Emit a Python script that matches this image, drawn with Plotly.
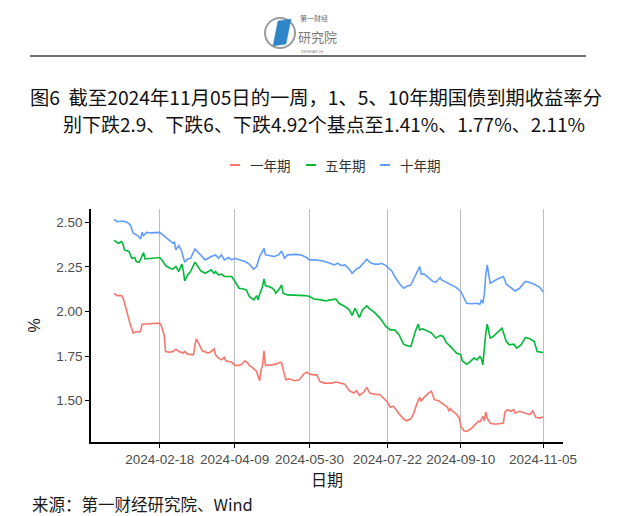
import plotly.graph_objects as go

# ---------------- data ----------------
dates_1y = ["2024-01-18","2024-01-20","2024-01-23","2024-01-24","2024-01-26","2024-01-28","2024-01-29","2024-01-31",
            "2024-02-02","2024-02-04","2024-02-05","2024-02-06","2024-02-10","2024-02-14","2024-02-18","2024-02-19",
            "2024-02-21","2024-02-22","2024-02-25","2024-02-27","2024-02-29","2024-03-02","2024-03-05","2024-03-06",
            "2024-03-08","2024-03-12","2024-03-13","2024-03-14","2024-03-16","2024-03-18","2024-03-22","2024-03-24",
            "2024-03-26","2024-03-27","2024-03-29","2024-03-31","2024-04-02","2024-04-03","2024-04-07","2024-04-09",
            "2024-04-12","2024-04-14","2024-04-16","2024-04-18","2024-04-19","2024-04-21","2024-04-24","2024-04-25",
            "2024-04-26","2024-04-27","2024-04-28","2024-04-29","2024-04-30","2024-05-04","2024-05-07","2024-05-10",
            "2024-05-11","2024-05-13","2024-05-14","2024-05-16","2024-05-20","2024-05-23","2024-05-26","2024-05-28",
            "2024-05-30","2024-06-02","2024-06-04","2024-06-06","2024-06-09","2024-06-12","2024-06-14","2024-06-17",
            "2024-06-20","2024-06-23","2024-06-26","2024-06-29","2024-07-01","2024-07-03","2024-07-06","2024-07-08",
            "2024-07-10","2024-07-13","2024-07-17","2024-07-19","2024-07-22","2024-07-24","2024-07-26","2024-07-28",
            "2024-07-30","2024-08-02","2024-08-04","2024-08-07","2024-08-09","2024-08-11","2024-08-13","2024-08-14",
            "2024-08-16","2024-08-19","2024-08-21","2024-08-23","2024-08-26","2024-08-28","2024-09-01","2024-09-02",
            "2024-09-03","2024-09-05","2024-09-07","2024-09-09","2024-09-10","2024-09-12","2024-09-14","2024-09-17",
            "2024-09-20","2024-09-22","2024-09-23","2024-09-25","2024-09-26","2024-09-27","2024-09-28","2024-09-30",
            "2024-10-02","2024-10-05","2024-10-09","2024-10-10","2024-10-12","2024-10-14","2024-10-16","2024-10-17",
            "2024-10-20","2024-10-24","2024-10-27","2024-10-29","2024-10-31","2024-11-03","2024-11-05"]
yield_1y = [2.102,2.089,2.089,2.078,2.018,1.953,1.925,1.879,
            1.888,1.884,1.891,1.929,1.933,1.933,1.935,1.922,
            1.869,1.776,1.772,1.776,1.789,1.776,1.767,1.776,
            1.761,1.757,1.813,1.847,1.813,1.780,1.767,1.776,
            1.791,1.757,1.739,1.729,1.743,1.724,1.716,1.698,
            1.698,1.705,1.724,1.711,1.698,1.687,1.664,1.642,
            1.612,1.673,1.698,1.780,1.698,1.701,1.705,1.716,
            1.711,1.642,1.617,1.623,1.612,1.617,1.649,1.660,
            1.649,1.645,1.645,1.608,1.599,1.599,1.599,1.605,
            1.599,1.593,1.556,1.543,1.556,1.530,1.549,1.575,
            1.543,1.537,1.534,1.519,1.493,1.463,1.469,1.450,
            1.426,1.399,1.388,1.399,1.431,1.482,1.519,1.497,
            1.519,1.543,1.553,1.506,1.500,1.487,1.463,1.441,
            1.455,1.437,1.426,1.403,1.357,1.332,1.329,1.343,
            1.370,1.385,1.381,1.413,1.388,1.437,1.403,1.375,
            1.370,1.370,1.375,1.437,1.450,1.441,1.450,1.431,
            1.441,1.431,1.422,1.444,1.407,1.403,1.410]

dates_5y = ["2024-01-18","2024-01-19","2024-01-21","2024-01-23","2024-01-24","2024-01-25","2024-01-28","2024-01-30",
            "2024-02-01","2024-02-02","2024-02-04","2024-02-06","2024-02-07","2024-02-08","2024-02-12","2024-02-18",
            "2024-02-20","2024-02-22","2024-02-25","2024-02-27","2024-02-29","2024-03-02","2024-03-04","2024-03-05",
            "2024-03-06","2024-03-08","2024-03-10","2024-03-13","2024-03-15","2024-03-17","2024-03-20","2024-03-22",
            "2024-03-24","2024-03-26","2024-03-27","2024-03-29","2024-03-31","2024-04-02","2024-04-04","2024-04-07",
            "2024-04-10","2024-04-12","2024-04-15","2024-04-17","2024-04-19","2024-04-22","2024-04-24","2024-04-25",
            "2024-04-26","2024-04-28","2024-04-29","2024-04-30","2024-05-04","2024-05-06","2024-05-07","2024-05-09",
            "2024-05-11","2024-05-12","2024-05-15","2024-05-19","2024-05-22","2024-05-27","2024-05-30","2024-06-02",
            "2024-06-07","2024-06-10","2024-06-13","2024-06-17","2024-06-19","2024-06-21","2024-06-23","2024-06-26",
            "2024-06-28","2024-06-30","2024-07-03","2024-07-05","2024-07-08","2024-07-10","2024-07-13","2024-07-17",
            "2024-07-19","2024-07-21","2024-07-24","2024-07-27","2024-07-30","2024-08-02","2024-08-04","2024-08-07",
            "2024-08-10","2024-08-12","2024-08-13","2024-08-15","2024-08-19","2024-08-21","2024-08-24","2024-08-27",
            "2024-08-29","2024-08-31","2024-09-04","2024-09-07","2024-09-10","2024-09-11","2024-09-14","2024-09-16",
            "2024-09-19","2024-09-21","2024-09-23","2024-09-24","2024-09-25","2024-09-26","2024-09-27","2024-09-28",
            "2024-09-30","2024-10-02","2024-10-05","2024-10-08","2024-10-11","2024-10-13","2024-10-16","2024-10-18",
            "2024-10-21","2024-10-24","2024-10-27","2024-10-30","2024-11-01","2024-11-03","2024-11-05"]
yield_5y = [2.400,2.391,2.382,2.391,2.376,2.345,2.336,2.298,
            2.302,2.280,2.276,2.308,2.330,2.294,2.298,2.302,
            2.283,2.257,2.242,2.237,2.252,2.224,2.265,2.233,
            2.171,2.205,2.224,2.276,2.252,2.227,2.214,2.224,
            2.233,2.214,2.224,2.205,2.209,2.196,2.196,2.196,
            2.158,2.130,2.126,2.121,2.084,2.065,2.089,2.065,
            2.097,2.140,2.182,2.145,2.134,2.121,2.102,2.121,
            2.149,2.102,2.093,2.093,2.089,2.089,2.084,2.070,
            2.065,2.059,2.065,2.069,2.046,2.037,2.028,2.009,
            1.978,2.018,1.966,2.009,2.031,2.015,1.996,1.963,
            1.940,1.916,1.897,1.897,1.869,1.817,1.810,1.804,
            1.888,1.929,1.897,1.903,1.888,1.879,1.851,1.866,
            1.860,1.828,1.795,1.767,1.757,1.724,1.705,1.716,
            1.739,1.729,1.748,1.735,1.701,1.795,1.879,1.929,
            1.851,1.860,1.884,1.907,1.832,1.813,1.817,1.795,
            1.813,1.855,1.847,1.832,1.776,1.772,1.770]

dates_10y = ["2024-01-18","2024-01-20","2024-01-24","2024-01-27","2024-01-29","2024-01-31","2024-02-03","2024-02-05",
             "2024-02-06","2024-02-07","2024-02-09","2024-02-12","2024-02-18","2024-02-20","2024-02-23","2024-02-27",
             "2024-02-28","2024-02-29","2024-03-02","2024-03-04","2024-03-06","2024-03-08","2024-03-10","2024-03-13",
             "2024-03-15","2024-03-18","2024-03-20","2024-03-22","2024-03-24","2024-03-27","2024-03-29","2024-03-31",
             "2024-04-02","2024-04-05","2024-04-07","2024-04-09","2024-04-12","2024-04-16","2024-04-19","2024-04-22",
             "2024-04-24","2024-04-26","2024-04-28","2024-04-29","2024-04-30","2024-05-03","2024-05-06","2024-05-09",
             "2024-05-11","2024-05-13","2024-05-15","2024-05-20","2024-05-24","2024-05-28","2024-05-30","2024-06-03",
             "2024-06-08","2024-06-13","2024-06-16","2024-06-18","2024-06-21","2024-06-23","2024-06-26","2024-06-28",
             "2024-07-01","2024-07-03","2024-07-06","2024-07-08","2024-07-10","2024-07-13","2024-07-16","2024-07-18",
             "2024-07-21","2024-07-25","2024-07-27","2024-07-30","2024-08-02","2024-08-04","2024-08-07","2024-08-10",
             "2024-08-11","2024-08-13","2024-08-14","2024-08-16","2024-08-19","2024-08-22","2024-08-24","2024-08-27",
             "2024-08-28","2024-08-31","2024-09-04","2024-09-07","2024-09-10","2024-09-11","2024-09-14","2024-09-17",
             "2024-09-21","2024-09-23","2024-09-24","2024-09-25","2024-09-26","2024-09-27","2024-09-28","2024-09-30",
             "2024-10-02","2024-10-05","2024-10-09","2024-10-11","2024-10-13","2024-10-17","2024-10-20","2024-10-24",
             "2024-10-27","2024-10-30","2024-11-03","2024-11-05"]
yield_10y = [2.516,2.503,2.507,2.499,2.484,2.438,2.425,2.406,
             2.443,2.425,2.443,2.440,2.443,2.428,2.410,2.382,
             2.388,2.345,2.369,2.336,2.276,2.294,2.298,2.350,
             2.332,2.302,2.289,2.298,2.308,2.317,2.298,2.317,
             2.289,2.302,2.289,2.298,2.289,2.280,2.265,2.237,
             2.252,2.308,2.336,2.354,2.317,2.313,2.308,2.317,
             2.339,2.298,2.317,2.320,2.317,2.302,2.289,2.289,
             2.283,2.270,2.261,2.270,2.257,2.261,2.238,2.214,
             2.238,2.246,2.276,2.293,2.276,2.265,2.265,2.270,
             2.257,2.227,2.196,2.158,2.130,2.140,2.149,2.201,
             2.227,2.252,2.209,2.209,2.190,2.168,2.164,2.190,
             2.177,2.164,2.149,2.134,2.112,2.097,2.046,2.043,
             2.046,2.041,2.065,2.046,2.093,2.205,2.261,2.158,
             2.168,2.182,2.196,2.153,2.140,2.115,2.130,2.168,
             2.162,2.153,2.134,2.110]

series_names = ["一年期", "五年期", "十年期"]
series_colors = ["#F8766D", "#00BA38", "#619CFF"]

tick_dates = ["2024-02-18", "2024-04-09", "2024-05-30", "2024-07-22", "2024-09-10", "2024-11-05"]
y_ticks = [1.50, 1.75, 2.00, 2.25, 2.50]

title_line1 = "图6  截至2024年11月05日的一周，1、5、10年期国债到期收益率分"
title_line2 = "别下跌2.9、下跌6、下跌4.92个基点至1.41%、1.77%、2.11%"
source_text = "来源：第一财经研究院、Wind"

# ---------------- layout helpers ----------------
W, H = 640, 516
L, R, T, B = 83, 85, 201, 82
PW, PH = W - L - R, H - T - B

def px(x):
    return (x - L) / PW

def py(y):
    return (H - B - y) / PH

CJK = "Noto Sans CJK SC, Liberation Sans, sans-serif"
SANS = "Liberation Sans, Arial, sans-serif"

fig = go.Figure()
for name, color, xs, ys in zip(series_names, series_colors,
                               [dates_1y, dates_5y, dates_10y],
                               [yield_1y, yield_5y, yield_10y]):
    fig.add_trace(go.Scatter(x=xs, y=ys, mode="lines", name=name,
                             line=dict(color=color, width=1.6),
                             showlegend=False))

shapes = []
annotations = []

# title
annotations.append(dict(text=title_line1, x=px(307.5), y=py(89), xref="paper", yref="paper",
                        showarrow=False, xanchor="center", yanchor="middle",
                        font=dict(family=CJK, size=19.3, color="#111111")))
annotations.append(dict(text=title_line2, x=px(316), y=py(116), xref="paper", yref="paper",
                        showarrow=False, xanchor="center", yanchor="middle",
                        font=dict(family=CJK, size=19, color="#111111")))

# custom legend
legend_items = [(227, 240), (303, 315), (377, 390)]
for (cx, tx), name, color in zip(legend_items, series_names, series_colors):
    shapes.append(dict(type="line", xref="paper", yref="paper",
                       x0=px(cx - 5), x1=px(cx + 5), y0=py(157), y1=py(157),
                       line=dict(color=color, width=2)))
    annotations.append(dict(text=name, x=px(tx), y=py(157), xref="paper", yref="paper",
                            showarrow=False, xanchor="left", yanchor="middle",
                            font=dict(family=CJK, size=13.5, color="#333333")))

# header rule
shapes.append(dict(type="line", xref="paper", yref="paper",
                   x0=px(22), x1=px(578), y0=py(48), y1=py(48),
                   line=dict(color="#707070", width=2)))

# logo: circle + blue parallelogram
shapes.append(dict(type="circle", xref="paper", yref="paper",
                   x0=px(257), x1=px(287), y0=py(40), y1=py(10),
                   line=dict(color="#9a9a9a", width=2)))
shapes.append(dict(type="path", xref="paper", yref="paper",
                   path="M {} {} L {} {} L {} {} L {} {} Z".format(
                       px(265), py(38), px(270), py(13), px(283), py(11), px(278), py(36)),
                   fillcolor="#2E86C8", line=dict(color="#2E86C8", width=0.5)))
annotations.append(dict(text="第一财经", x=px(290), y=py(10), xref="paper", yref="paper",
                        showarrow=False, xanchor="left", yanchor="middle",
                        font=dict(family=CJK, size=7, color="#6a6a6a")))
annotations.append(dict(text="研究院", x=px(288), y=py(28), xref="paper", yref="paper",
                        showarrow=False, xanchor="left", yanchor="middle",
                        font=dict(family=CJK, size=13, color="#7a7a7a")))
annotations.append(dict(text="RESEARCH", x=px(291), y=py(43), xref="paper", yref="paper",
                        showarrow=False, xanchor="left", yanchor="middle",
                        font=dict(family=SANS, size=4, color="#8a8a8a")))

# source
annotations.append(dict(text=source_text, x=px(22), y=py(496), xref="paper", yref="paper",
                        showarrow=False, xanchor="left", yanchor="middle",
                        font=dict(family=CJK, size=16.5, color="#1a1a1a")))

fig.update_layout(
    width=W, height=H,
    margin=dict(l=L, r=R, t=T, b=B, pad=0),
    paper_bgcolor="white", plot_bgcolor="white",
    shapes=shapes, annotations=annotations,
    showlegend=False,
)

fig.update_xaxes(
    type="date",
    range=["2024-01-02 05:00", "2024-11-18 14:00"],
    tickvals=tick_dates, ticktext=tick_dates,
    showgrid=True, gridcolor="#BEBEBE", gridwidth=1.3,
    showline=True, linecolor="black", linewidth=1.5,
    ticks="outside", ticklen=4, tickcolor="black", tickwidth=1.2,
    tickfont=dict(family=SANS, size=13.5, color="#4D4D4D"),
    title=dict(text="日期", font=dict(family=CJK, size=16, color="#1a1a1a"), standoff=4),
    zeroline=False,
)
fig.update_yaxes(
    range=[1.269, 2.574],
    tickvals=y_ticks, tickformat=".2f",
    showgrid=False,
    showline=True, linecolor="black", linewidth=1.5,
    ticks="outside", ticklen=4, tickcolor="black", tickwidth=1.2,
    tickfont=dict(family=SANS, size=13.5, color="#4D4D4D"),
    title=dict(text="%", font=dict(family=SANS, size=16, color="#1a1a1a"), standoff=12),
    zeroline=False,
)

fig.write_html("out.html")
